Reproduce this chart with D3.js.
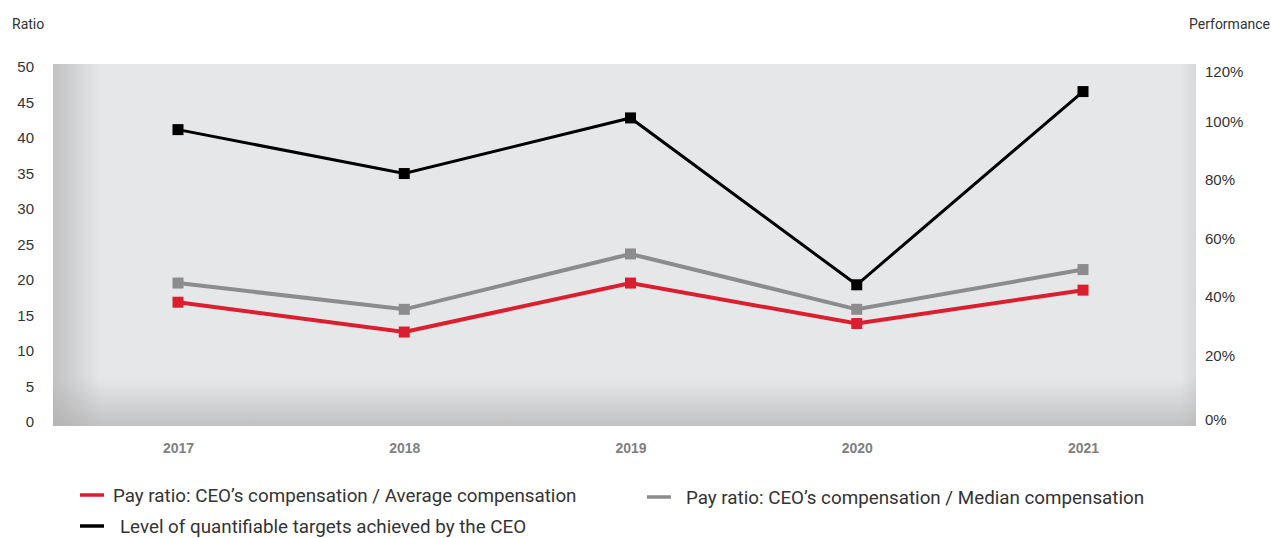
<!DOCTYPE html>
<html lang="en">
<head>
    <meta charset="utf-8">
    <script src="https://d3js.org/d3.v7.min.js"></script>
    <style>
        body {
            margin: 0;
            font-family: Roboto, 'Noto Sans', Arial, sans-serif;
            background: #fff;
        }
        .axis text {
            font-size: 15px;
            fill: #333;
        }
        .x-axis text {
            font-size: 14px;
            font-weight: bold;
            fill: #7f7f7f;
        }
        .axis-title {
            font-size: 14px;
            fill: #333;
        }
        .legend text {
            font-size: 18.8px;
            fill: #333;
        }
    </style>
</head>
<body>
<script>
    // Data
    var years = ["2017", "2018", "2019", "2020", "2021"];
    var payRatioAverage = [16.8, 12.6, 19.5, 13.8, 18.5];
    var payRatioMedian = [19.5, 15.8, 23.6, 15.8, 21.4];
    var targetsAchieved = [97, 82, 101, 44, 110];   // percent
    var ratioTicks = [0, 5, 10, 15, 20, 25, 30, 35, 40, 45, 50];
    var performanceTicks = [0, 20, 40, 60, 80, 100, 120];

    var width = 1271, height = 538;
    var plot = {left: 53, right: 1196, top: 64, bottom: 426};

    var svg = d3.select("body").append("svg")
        .attr("width", width)
        .attr("height", height);

    // Scales
    var x = d3.scalePoint()
        .domain(years)
        .range([178, 1083]);

    var yLeft = d3.scaleLinear()
        .domain([0, 50])
        .range([421.5, 66.5]);

    var yRight = d3.scaleLinear()
        .domain([0, 120])
        .range([413.6, 62.3]);

    // Plot background with shaded left and bottom edges
    var defs = svg.append("defs");
    var gLeft = defs.append("linearGradient").attr("id", "shadeLeft")
        .attr("x1", "0").attr("x2", "1").attr("y1", "0").attr("y2", "0");
    gLeft.append("stop").attr("offset", "0").attr("stop-color", "#a9a9a9").attr("stop-opacity", 0.6);
    gLeft.append("stop").attr("offset", "1").attr("stop-color", "#a9a9a9").attr("stop-opacity", 0);

    var gBottom = defs.append("linearGradient").attr("id", "shadeBottom")
        .attr("x1", "0").attr("x2", "0").attr("y1", "1").attr("y2", "0");
    gBottom.append("stop").attr("offset", "0").attr("stop-color", "#a9a9a9").attr("stop-opacity", 0.6);
    gBottom.append("stop").attr("offset", "1").attr("stop-color", "#a9a9a9").attr("stop-opacity", 0);

    var gRight = defs.append("linearGradient").attr("id", "shadeRight")
        .attr("x1", "1").attr("x2", "0").attr("y1", "0").attr("y2", "0");
    gRight.append("stop").attr("offset", "0").attr("stop-color", "#a9a9a9").attr("stop-opacity", 0.25);
    gRight.append("stop").attr("offset", "1").attr("stop-color", "#a9a9a9").attr("stop-opacity", 0);

    svg.append("rect")
        .attr("x", plot.left).attr("y", plot.top)
        .attr("width", plot.right - plot.left)
        .attr("height", plot.bottom - plot.top)
        .attr("fill", "#e6e7e9");

    svg.append("rect")
        .attr("x", plot.left).attr("y", plot.top)
        .attr("width", 48).attr("height", plot.bottom - plot.top)
        .attr("fill", "url(#shadeLeft)");

    svg.append("rect")
        .attr("x", plot.left).attr("y", plot.bottom - 48)
        .attr("width", plot.right - plot.left).attr("height", 48)
        .attr("fill", "url(#shadeBottom)");

    svg.append("rect")
        .attr("x", plot.right - 15).attr("y", plot.top)
        .attr("width", 15).attr("height", plot.bottom - plot.top)
        .attr("fill", "url(#shadeRight)");

    // Axes
    svg.append("g")
        .attr("class", "axis")
        .attr("transform", "translate(34,0)")
        .call(d3.axisLeft(yLeft).tickValues(ratioTicks).tickSize(0).tickPadding(0))
        .call(g => g.select(".domain").remove())
        .selectAll("text").attr("dy", "0.35em");

    // end labels of the performance axis sit a little inside, as in the original
    svg.append("g")
        .attr("class", "axis")
        .attr("transform", "translate(1205,0)")
        .call(d3.axisRight(yRight).tickValues(performanceTicks).tickSize(0).tickPadding(0)
            .tickFormat(d => d + "%"))
        .call(g => g.select(".domain").remove())
        .selectAll("text")
        .attr("dy", "0.35em")
        .attr("y", d => d === 0 ? 6 : (d === 120 ? 9 : 0));

    svg.append("g")
        .attr("class", "axis x-axis")
        .attr("transform", "translate(0,443)")
        .call(d3.axisBottom(x).tickSize(0).tickPadding(0))
        .call(g => g.select(".domain").remove());

    svg.append("text")
        .attr("class", "axis-title")
        .attr("x", 12).attr("y", 29)
        .text("Ratio");

    svg.append("text")
        .attr("class", "axis-title")
        .attr("x", 1270).attr("y", 29)
        .attr("text-anchor", "end")
        .text("Performance");

    // Series
    var series = [
        {name: "Pay ratio: CEO\u2019s compensation / Median compensation", values: payRatioMedian, scale: yLeft, color: "#8c8c8e", width: 4},
        {name: "Pay ratio: CEO\u2019s compensation / Average compensation", values: payRatioAverage, scale: yLeft, color: "#db1f2e", width: 4},
        {name: "Level of quantifiable targets achieved by the CEO", values: targetsAchieved, scale: yRight, color: "#000000", width: 3}
    ];

    series.forEach(function(s) {
        var line = d3.line()
            .x((d, i) => x(years[i]))
            .y(d => s.scale(d));

        svg.append("path")
            .datum(s.values)
            .attr("fill", "none")
            .attr("stroke", s.color)
            .attr("stroke-width", s.width)
            .attr("d", line);

        svg.selectAll(null)
            .data(s.values)
            .enter().append("rect")
            .attr("x", (d, i) => x(years[i]) - 5.5)
            .attr("y", d => s.scale(d) - 5.5)
            .attr("width", 11)
            .attr("height", 11)
            .attr("fill", s.color);
    });

    // Legend
    var legendItems = [
        {s: series[1], x: 80, y: 495, tx: 113},
        {s: series[0], x: 647, y: 497, tx: 686},
        {s: series[2], x: 80, y: 526, tx: 120}
    ];

    var legend = svg.append("g").attr("class", "legend");
    legendItems.forEach(function(item) {
        legend.append("line")
            .attr("x1", item.x).attr("x2", item.x + 24)
            .attr("y1", item.y).attr("y2", item.y)
            .attr("stroke", item.s.color)
            .attr("stroke-width", 3.5);
        legend.append("text")
            .attr("x", item.tx).attr("y", item.y + 7)
            .text(item.s.name);
    });
</script>
</body>
</html>
